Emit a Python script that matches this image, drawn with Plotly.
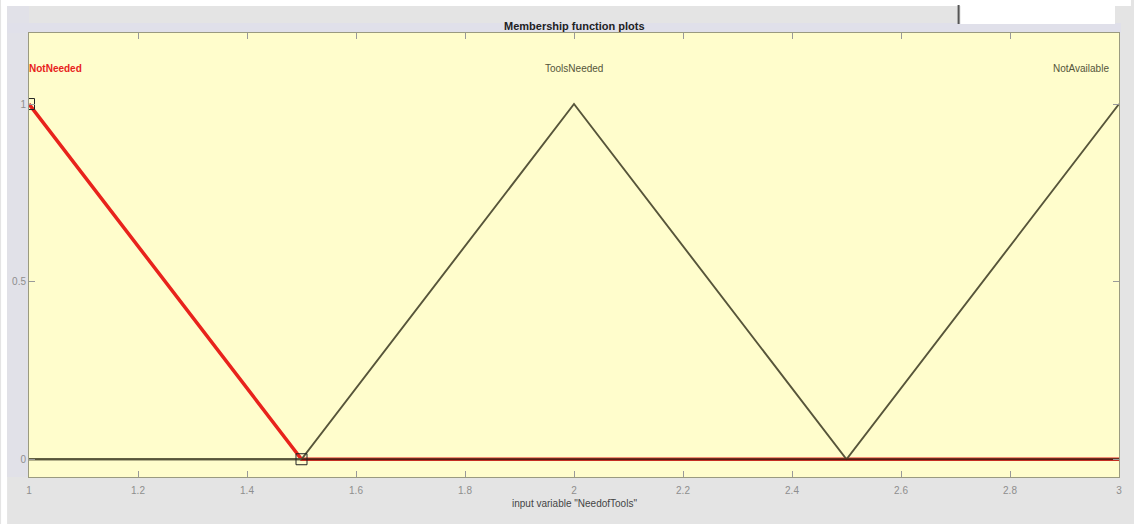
import plotly.graph_objects as go

# Input variable range and membership functions (triangular)
x_range = [1, 3]
y_range = [-0.05, 1.2]

mf_names = ["NotNeeded", "ToolsNeeded", "NotAvailable"]
mf_x = [
    [1.0, 1.5, 3.0],
    [1.0, 1.5, 2.0, 2.5, 3.0],
    [1.0, 2.5, 3.0],
]
mf_y = [
    [1.0, 0.0, 0.0],
    [0.0, 0.0, 1.0, 0.0, 0.0],
    [0.0, 0.0, 1.0],
]
label_x = [1.0, 2.0, 3.0]
label_y = 1.1

# Selected MF handles
handle_x = [1.0, 1.5]
handle_y = [1.0, 0.0]

x_ticks = [1, 1.2, 1.4, 1.6, 1.8, 2, 2.2, 2.4, 2.6, 2.8, 3]
x_tick_text = ["1", "1.2", "1.4", "1.6", "1.8", "2", "2.2", "2.4", "2.6", "2.8", "3"]
y_ticks = [0, 0.5, 1]
y_tick_text = ["0", "0.5", "1"]

red = "#e8231c"
olive = "#57553a"

fig = go.Figure()

# selected function (thick red) drawn first
fig.add_trace(go.Scatter(x=mf_x[0], y=mf_y[0], mode="lines",
                         line=dict(color=red, width=3.5), hoverinfo="skip"))
for i in (1, 2):
    fig.add_trace(go.Scatter(x=mf_x[i], y=mf_y[i], mode="lines",
                             line=dict(color=olive, width=1.9), hoverinfo="skip"))
# baseline under the red section
fig.add_trace(go.Scatter(x=[1.5, 3.0], y=[0, 0], mode="lines",
                         line=dict(color="#5a1a10", width=1.4), hoverinfo="skip"))
fig.add_trace(go.Scatter(x=handle_x, y=handle_y, mode="markers",
                         marker=dict(symbol="square-open", size=11, color="#222222",
                                     line=dict(width=1)), hoverinfo="skip"))

# MF names
anchors = ["left", "center", "right"]
colors = [red, "#55553a", "#55553a"]
for name, lx, anc, col in zip(mf_names, label_x, anchors, colors):
    fig.add_annotation(x=lx, y=label_y, text=("<b>%s</b>" % name) if col == red else name,
                       showarrow=False, xanchor=anc, yanchor="middle",
                       font=dict(size=10, color=col, family="Liberation Sans"),
                       xshift=-2 if anc == "left" else (-8 if anc == "right" else 0))

# Window decorations around the axes
W, H = 1134, 524
L, R, T, B = 28, 12, 33, 47
pw, ph = W - L - R, H - T - B


def px(xp):
    return (xp - L) / pw


def py(yp):
    return (H - B - yp) / ph


shapes = [
    dict(type="rect", xref="paper", yref="paper", x0=px(0), x1=px(W), y0=py(6), y1=py(-2),
         fillcolor="white", line=dict(width=0), layer="below"),
    dict(type="rect", xref="paper", yref="paper", x0=px(0), x1=px(6), y0=py(H + 2), y1=py(0),
         fillcolor="white", line=dict(width=0), layer="below"),
    dict(type="rect", xref="paper", yref="paper", x0=px(6), x1=px(L), y0=py(H - B), y1=py(6),
         fillcolor="#e1e1e8", line=dict(width=0), layer="below"),
    dict(type="rect", xref="paper", yref="paper", x0=px(6), x1=px(1124), y0=py(T), y1=py(23),
         fillcolor="#e0e0ea", line=dict(width=0), layer="below"),
    dict(type="rect", xref="paper", yref="paper", x0=px(963), x1=px(1118), y0=py(24), y1=py(0),
         fillcolor="white", line=dict(width=0), layer="below"),
    dict(type="line", xref="paper", yref="paper", x0=px(961), x1=px(961), y0=py(24), y1=py(5),
         line=dict(color="#555555", width=2)),
]

fig.add_annotation(xref="paper", yref="paper", x=px(575), y=py(18), text="<b>Membership function plots</b>",
                   showarrow=False, font=dict(size=11, color="#222222", family="Liberation Sans"))
fig.add_annotation(xref="paper", yref="paper", x=px(575), y=py(511), text='input variable "NeedofTools"',
                   showarrow=False, font=dict(size=10, color="#444444", family="Liberation Sans"))

fig.update_layout(
    width=W, height=H,
    margin=dict(l=L, r=R, t=T, b=B),
    paper_bgcolor="#e4e4e4",
    plot_bgcolor="#fffdcc",
    showlegend=False,
    shapes=shapes,
    xaxis=dict(range=x_range, tickvals=x_ticks, ticktext=x_tick_text, ticks="inside",
               ticklen=6, tickcolor="#999999", showgrid=False, zeroline=False,
               showline=True, linecolor="#9a9a80", linewidth=1, mirror="ticks",
               ticklabelstandoff=4,
               tickfont=dict(size=10, color="#8e8e8e", family="Liberation Sans"), fixedrange=True),
    yaxis=dict(range=y_range, tickvals=y_ticks, ticktext=y_tick_text, ticks="inside",
               ticklen=6, tickcolor="#999999", showgrid=False, zeroline=False,
               showline=True, linecolor="#9a9a80", linewidth=1, mirror="ticks",
               tickfont=dict(size=10, color="#8e8e8e", family="Liberation Sans"), fixedrange=True),
)

fig.write_html("out.html")
